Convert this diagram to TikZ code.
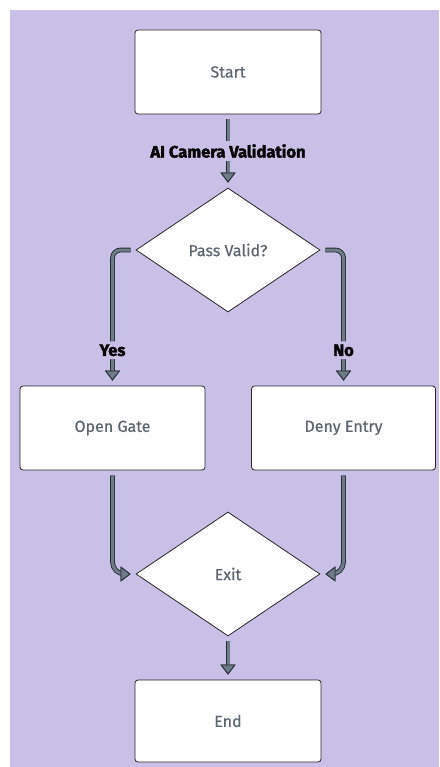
\documentclass[tikz,border=0pt]{standalone}
\usepackage{fontspec}
\setmainfont{Fira Sans}[UprightFeatures={FakeBold=0.5}]
\newfontfamily\tagfont{Fira Sans Bold}[FakeBold=2]
\usetikzlibrary{positioning,shapes.geometric,arrows.meta}
\definecolor{bgpurple}{RGB}{200,192,230}
\definecolor{flowgray}{RGB}{110,123,136}
\definecolor{flowdark}{RGB}{38,44,52}
\definecolor{textgray}{RGB}{92,102,112}

\begin{document}
\begin{tikzpicture}[x=1pt,y=1pt,node distance=178pt,on grid,
   block/.style={draw=black!85, fill=white, rounded corners=3pt, line width=0.8pt,
      minimum width=186pt, minimum height=84pt, text=textgray, font=\fontsize{16}{19}\selectfont},
   decision/.style={diamond, draw=black!85, fill=white, line width=0.8pt, inner sep=0pt,
      minimum width=184pt, minimum height=124pt, text=textgray, font=\fontsize{16}{19}\selectfont},
   flow/.style={draw=flowgray, line width=3pt, shorten <=5pt, shorten >=5pt,
      -{Triangle[length=10pt,width=15pt,line width=0.8pt,fill=flowgray,color=flowdark]},
      preaction={draw=flowdark, line width=4.8pt}},
   tag/.style={fill=bgpurple, inner sep=3pt, text=black, font=\tagfont\fontsize{16.5}{18}\selectfont}]
   \useasboundingbox (0,0) rectangle (439,-767);
   \fill[bgpurple] (10,-10) rectangle (439,-767);

   \node[block] (start) at (228,-72) {Start};
   \node[decision] (pass) [below=of start] {Pass Valid?};
   \node[block, minimum width=185pt] (open) [below left=178pt and 115.5pt of pass] {Open Gate};
   \node[block, minimum width=184pt] (deny) [below right=178pt and 115.5pt of pass] {Deny Entry};
   \node[decision] (exit) [below=324pt of pass] {Exit};
   \node[block, minimum height=82pt] (end) [below=147pt of exit] {End};

   \draw[flow] (start) -- node[tag] {AI Camera Validation} (pass);
   \draw[flow, rounded corners=8pt] (pass.west) -| node[tag, pos=0.87] {Yes} (open.north);
   \draw[flow, rounded corners=8pt] (pass.east) -| node[tag, pos=0.87] {No} (deny.north);
   \draw[flow, rounded corners=12pt] (open.south) |- (exit.west);
   \draw[flow, rounded corners=12pt] (deny.south) |- (exit.east);
   \draw[flow] (exit) -- (end);
\end{tikzpicture}
\end{document}
